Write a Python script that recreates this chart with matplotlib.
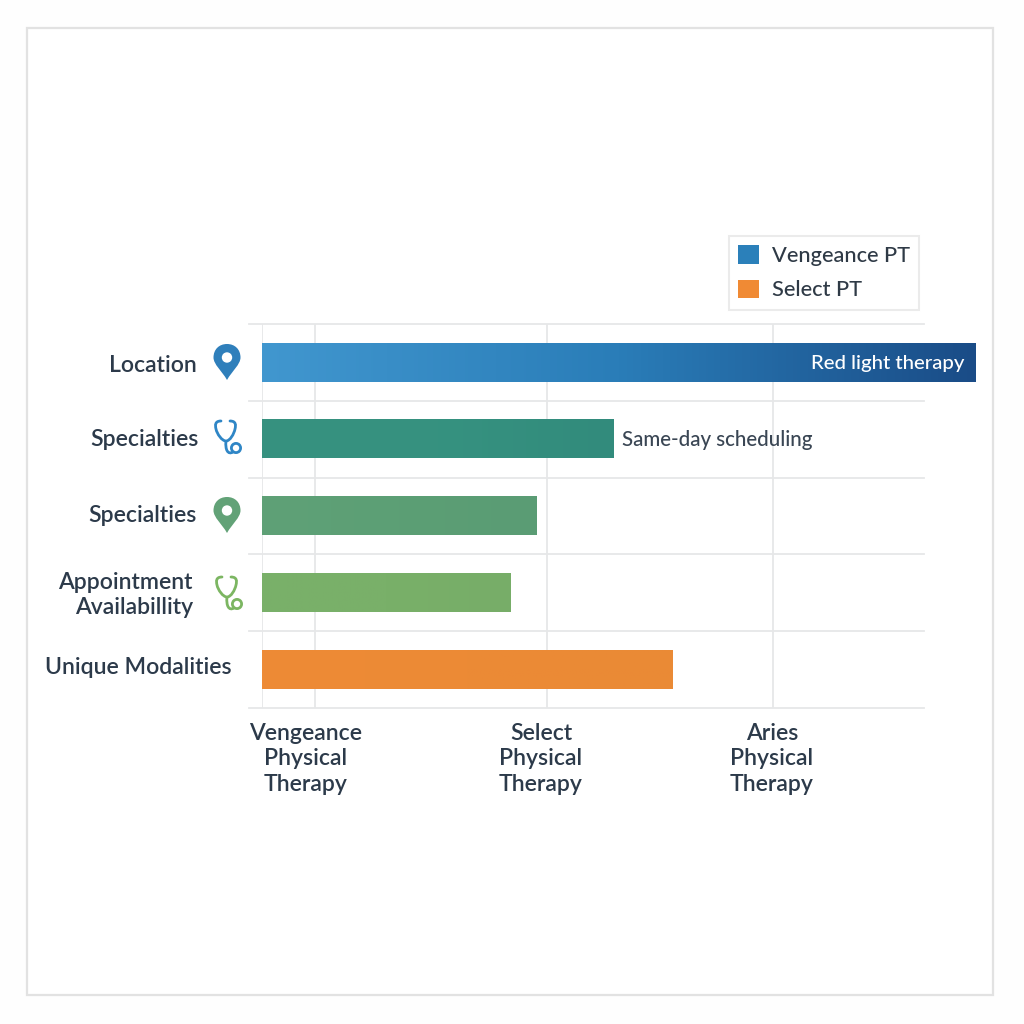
import numpy as np
import matplotlib
matplotlib.use("Agg")
import matplotlib.pyplot as plt
from matplotlib.colors import LinearSegmentedColormap
from matplotlib.patches import Rectangle, Circle, PathPatch
from matplotlib.path import Path
from matplotlib.transforms import ScaledTranslation

plt.rcParams['font.family'] = ['Lato', 'DejaVu Sans']
plt.rcParams['font.weight'] = 'medium'

categories = ["Location", "Specialties", "Specialties", "Appointment\nAvailabillity", "Unique Modalities"]
values = [7.14, 3.52, 2.75, 2.49, 4.11]
bar_colors = [
    ["#4197cf", "#2a7db8", "#1a4c87"],
    ["#37917f", "#369280", "#328b7c"],
    ["#5fa177", "#5c9f75", "#5a9c74"],
    ["#7ab06a", "#79b069", "#77ad68"],
    ["#ee8b36", "#ec8a35", "#ea8a36"],
]
bar_notes = ["Red light therapy", "Same-day scheduling"]
tick_pos = [0.53, 2.85, 5.11]
tick_labels = ["Vengeance\nPhysical\nTherapy", "Select\nPhysical\nTherapy", "Aries\nPhysical\nTherapy"]
tick_shift = [-9, -6, -1]
legend_names = ["Vengeance PT", "Select PT"]
legend_colors = ["#2b80ba", "#f08a34"]

GRID = "#e6e7e8"
TEXT = "#2c3a4a"
W = 1024

fig = plt.figure(figsize=(10.24, 10.24), dpi=100, facecolor="#fefefe")

# overlay in pixel coords for the frame and the icons
bg = fig.add_axes([0, 0, 1, 1], zorder=0)
bg.set_xlim(0, W)
bg.set_ylim(W, 0)
bg.axis("off")
bg.add_patch(Rectangle((27, 28), 966, 967, fc="white", ec="#e2e2e2", lw=1.6))

ax = fig.add_axes([262 / W, 1 - 708 / W, 663 / W, 384 / W], zorder=1)
ax.patch.set_alpha(0)
for s in ax.spines.values():
    s.set_visible(False)

for y in range(6):
    ax.plot([-0.13, 6.62], [y, y], color=GRID, lw=1.3, clip_on=False, zorder=1)
for x in [0] + tick_pos:
    ax.axvline(x, color=GRID, lw=1.3, zorder=1)

ys = np.arange(len(values)) + 0.5
bars = ax.barh(ys, values, height=0.5, color="none", zorder=2, clip_on=False)
grad = np.linspace(0, 1, 256).reshape(1, -1)
for bar, cols in zip(bars, bar_colors):
    x0, y0 = bar.get_x(), bar.get_y()
    ax.imshow(grad, extent=(x0, x0 + bar.get_width(), y0 + bar.get_height(), y0), aspect="auto",
              cmap=LinearSegmentedColormap.from_list("b", cols), zorder=2.5, clip_on=False)
ax.set_xlim(0, 6.63)
ax.set_ylim(5, 0)

ax.text(values[0] - 0.11, ys[0] + 0.01, bar_notes[0], color="white", ha="right", va="center", fontsize=14.7, zorder=4, clip_on=False)
ax.text(values[1] + 0.08, ys[1] + 0.01, bar_notes[1], color="#3a4654", ha="left", va="center", fontsize=14.8, zorder=4)

ax.set_yticks([])
ax.set_xticks(tick_pos)
ax.set_xticklabels(tick_labels, fontsize=16.6, color=TEXT, linespacing=1.26, fontweight="semibold")
ax.tick_params(axis="x", length=0, pad=10.6)
for lab, dx in zip(ax.get_xticklabels(), tick_shift):
    lab.set_transform(lab.get_transform() + ScaledTranslation(dx / 100, 0, fig.dpi_scale_trans))

# row labels, right edges differ per row
label_x = [197, 199, 197, 193, 232]
label_y = [365, 440, 516, 595, 667]
for name, lx, ly in zip(categories, label_x, label_y):
    bg.text(lx, ly, name, ha="right", ma="right", va="center", fontsize=16.6,
            color=TEXT, linespacing=1.2, fontweight="semibold")


def pin(cx, top, color):
    # teardrop marker, 27 wide and 36 tall
    r = 13.5
    cy = top + r
    tip = top + 36
    verts = [(cx, tip), (cx - 5, tip - 9), (cx - r, cy + 7), (cx - r, cy),
             (cx - r, cy - 8), (cx - 8, cy - r), (cx, cy - r),
             (cx + 8, cy - r), (cx + r, cy - 8), (cx + r, cy),
             (cx + r, cy + 7), (cx + 5, tip - 9), (cx, tip), (cx, tip)]
    codes = [Path.MOVETO] + [Path.CURVE4] * 12 + [Path.CLOSEPOLY]
    bg.add_patch(PathPatch(Path(verts, codes), fc=color, ec="none", zorder=3))
    bg.add_patch(Circle((cx, cy), 5.2, fc="white", ec="none", zorder=4))


def scope(cx, top, color):
    # stethoscope: U shaped tube going down into a small ring
    verts = [(cx - 6, top + 1), (cx - 12, top + 1), (cx - 12, top + 5), (cx - 11, top + 9),
             (cx - 10, top + 14), (cx - 5, top + 21), (cx - 1, top + 21),
             (cx + 3, top + 21), (cx + 7, top + 14), (cx + 8, top + 9),
             (cx + 9, top + 5), (cx + 9, top + 1), (cx + 3, top + 1)]
    codes = [Path.MOVETO] + [Path.CURVE4] * 12
    bg.add_patch(PathPatch(Path(verts, codes), fc="none", ec=color, lw=2, capstyle="round", zorder=3))
    stem = [(cx - 1, top + 21), (cx - 2, top + 30), (cx + 1, top + 35), (cx + 6, top + 32)]
    bg.add_patch(PathPatch(Path(stem, [Path.MOVETO] + [Path.CURVE4] * 3), fc="none", ec=color, lw=2, zorder=3))
    bg.add_patch(Circle((cx + 9, top + 28), 4.6, fc="white", ec=color, lw=2, zorder=4))


pin(227, 344, "#2f7fbb")
scope(227, 420, "#2f86c6")
pin(227, 497, "#62a277")
scope(228, 576, "#7cb662")

handles = [Rectangle((0, 0), 1, 1, fc=c, ec="none") for c in legend_colors]
leg = fig.legend(handles, legend_names, loc="upper left", bbox_to_anchor=(729 / W, 1 - 236 / W), borderaxespad=0,
                 fontsize=15.7, frameon=True, fancybox=False, edgecolor="#e6e6e6", facecolor="white",
                 handlelength=0.95, handleheight=0.95, handletextpad=0.58, labelspacing=0.62,
                 borderpad=0.42, labelcolor="#2f3a46")
leg.get_frame().set_linewidth(1.5)

fig.savefig("out.png", dpi=100, facecolor=fig.get_facecolor())
